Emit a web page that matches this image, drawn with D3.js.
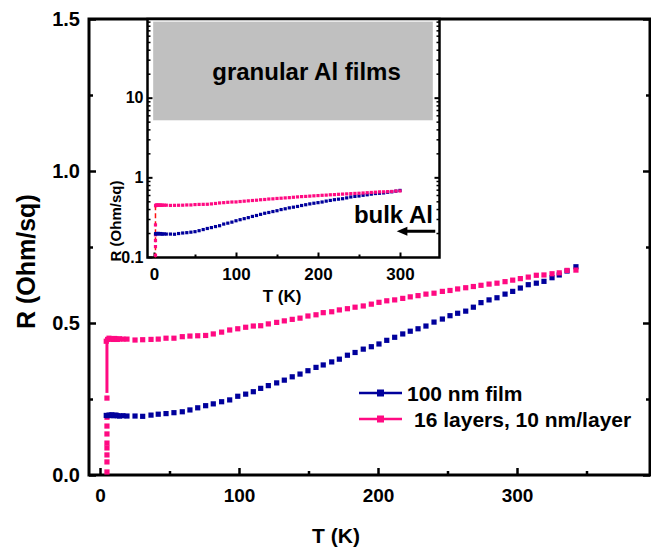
<!DOCTYPE html>
<html>
<head>
<meta charset="utf-8">
<script src="https://cdn.jsdelivr.net/npm/d3@7/dist/d3.min.js"></script>
<style>
  html, body { margin: 0; padding: 0; background: #fff; }
  svg { display: block; font-family: "Liberation Sans", Arial, Helvetica, sans-serif; font-weight: bold; }
</style>
</head>
<body>
<svg id="chart" width="651" height="556"></svg>
<script>
// Temperature of each measurement, as placed on the main panel's T axis (K)
const tMain = [4.5, 5.5, 6.5, 7.5, 8.5, 9.5, 10.5, 11.5, 12.5, 14.0, 16.5,
  19.4, 25.2, 30.7, 36.7, 41.9, 47.5, 53.2, 59.2, 64.7, 70.3,
  76.0, 81.5, 87.5, 93.3, 99.1, 104.8, 110.3, 115.6, 121.1, 127.1,
  132.6, 138.3, 143.9, 149.6, 155.4, 160.6, 166.7, 172.2, 178.0, 183.5,
  189.4, 195.2, 200.7, 206.3, 212.0, 217.8, 223.2, 228.8, 234.5, 240.3,
  246.3, 251.8, 257.3, 263.1, 268.6, 274.1, 279.9, 285.6, 291.4, 296.9,
  302.4, 308.1, 313.9, 319.4, 325.2, 330.4, 336.0, 342.4];

// Same measurements on the inset's T axis (K)
const tInset = [1.9, 2.5, 3, 4, 5, 6, 7, 8, 9, 10.5, 12.5,
  15, 20, 25, 30, 35, 40, 45, 50, 55, 60,
  65, 70, 75, 80, 85, 90, 95, 100, 105, 110,
  115, 120, 125, 130, 135, 140, 145, 150, 155, 160,
  165, 170, 175, 180, 185, 190, 195, 200, 205, 210,
  215, 220, 225, 230, 235, 240, 245, 250, 255, 260,
  265, 270, 275, 280, 285, 290, 295, 300];

// Sheet resistance, 100 nm film (Ohm/sq)
const rFilm = [0.196, 0.195, 0.197, 0.196, 0.198, 0.195, 0.196, 0.197, 0.195, 0.194, 0.195,
  0.194, 0.194, 0.193, 0.197, 0.200, 0.202, 0.205, 0.208, 0.214, 0.221,
  0.228, 0.234, 0.241, 0.247, 0.259, 0.266, 0.274, 0.285, 0.294, 0.303,
  0.312, 0.323, 0.332, 0.343, 0.354, 0.362, 0.372, 0.381, 0.394, 0.403,
  0.414, 0.422, 0.431, 0.443, 0.453, 0.464, 0.473, 0.481, 0.490, 0.503,
  0.513, 0.524, 0.532, 0.539, 0.552, 0.567, 0.576, 0.583, 0.595, 0.604,
  0.615, 0.626, 0.631, 0.637, 0.649, 0.658, 0.671, 0.685];

// Sheet resistance, 16 layers of 10 nm (Ohm/sq)
const rLayers = [0.440, 0.446, 0.450, 0.447, 0.448, 0.446, 0.449, 0.447, 0.446, 0.448, 0.447,
  0.447, 0.444, 0.445, 0.446, 0.447, 0.450, 0.450, 0.455, 0.457, 0.458,
  0.459, 0.464, 0.470, 0.477, 0.481, 0.486, 0.490, 0.491, 0.497, 0.502,
  0.507, 0.512, 0.516, 0.523, 0.527, 0.534, 0.537, 0.543, 0.547, 0.552,
  0.556, 0.562, 0.568, 0.573, 0.576, 0.581, 0.586, 0.590, 0.595, 0.598,
  0.604, 0.607, 0.612, 0.616, 0.620, 0.624, 0.628, 0.631, 0.636, 0.641,
  0.646, 0.651, 0.657, 0.658, 0.662, 0.665, 0.673, 0.674];

// Superconducting drop of the multilayer
const tcMain = 5.0, tcInset = 1.8;
const rTransition = [0.445, 0.27, 0.253, 0.19, 0.161, 0.135, 0.105, 0.089, 0.066, 0.043, 0.01];

const legendLabels = ["100 nm film", "16 layers, 10 nm/layer"];
const blue = "#00009c", pink = "#ff0a82";

const svg = d3.select("#chart");

// ---------- main panel ----------
const x = d3.scaleLinear().domain([0, 300]).range([100, 517]);
const y = d3.scaleLinear().domain([0, 1.5]).range([475, 19]);
const frame = { left: 89, right: 650, top: 19, bottom: 475 };

const main = svg.append("g");

function styleAxis(g, w) {
  g.select(".domain").remove();
  g.selectAll(".tick line").attr("stroke", "#000").attr("stroke-width", w);
}

// ticks
main.append("g").attr("transform", `translate(0,${frame.bottom})`)
  .call(d3.axisBottom(x).tickValues([0, 100, 200, 300]).tickSize(-7).tickPadding(14))
  .call(g => styleAxis(g, 2.5))
  .call(g => g.selectAll("text").attr("font-size", 19).attr("fill", "#000"));
main.append("g").attr("transform", `translate(0,${frame.bottom})`)
  .call(d3.axisBottom(x).tickValues([50, 150, 250, 350]).tickSize(-4).tickFormat(""))
  .call(g => styleAxis(g, 2.5));
main.append("g").attr("transform", `translate(${frame.left},0)`)
  .call(d3.axisLeft(y).tickValues([0, 0.5, 1.0, 1.5]).tickSize(-7).tickPadding(9).tickFormat(d3.format(".1f")))
  .call(g => styleAxis(g, 2.5))
  .call(g => g.selectAll("text").attr("font-size", 20).attr("fill", "#000"));
main.append("g").attr("transform", `translate(${frame.left},0)`)
  .call(d3.axisLeft(y).tickValues([0.25, 0.75, 1.25]).tickSize(-4).tickFormat(""))
  .call(g => styleAxis(g, 2.5));
main.append("g").attr("transform", `translate(${frame.right},0)`)
  .call(d3.axisRight(y).tickValues([0, 0.5, 1.0, 1.5]).tickSize(-7).tickFormat(""))
  .call(g => styleAxis(g, 2.5));
main.append("g").attr("transform", `translate(${frame.right},0)`)
  .call(d3.axisRight(y).tickValues([0.25, 0.75, 1.25]).tickSize(-4).tickFormat(""))
  .call(g => styleAxis(g, 2.5));

// frame
main.append("rect")
  .attr("x", frame.left).attr("y", frame.top)
  .attr("width", frame.right - frame.left).attr("height", frame.bottom - frame.top)
  .attr("fill", "none").attr("stroke", "#000").attr("stroke-width", 3);

// axis titles
main.append("text").attr("x", 336).attr("y", 543).attr("text-anchor", "middle")
  .attr("font-size", 21).text("T (K)");
main.append("text").attr("transform", "translate(35,329) rotate(-90)")
  .attr("text-anchor", "start").attr("font-size", 25).text("R (Ohm/sq)");

// transition of the multilayer: solid step then the scattered low points
const sq = 5.2;
main.append("path")
  .attr("d", d3.line().x(() => x(tcMain)).y(d => y(d))(rTransition.slice(0, 2)))
  .attr("stroke", pink).attr("stroke-width", 3).attr("fill", "none");
main.append("g").selectAll("rect").data(rTransition.slice(2)).join("rect")
  .attr("x", x(tcMain) - sq / 2).attr("y", d => y(d) - sq / 2)
  .attr("width", sq).attr("height", sq).attr("fill", pink);

// data markers
main.append("g").selectAll("rect").data(d3.zip(tMain, rFilm)).join("rect")
  .attr("x", d => x(d[0]) - sq / 2).attr("y", d => y(d[1]) - sq / 2)
  .attr("width", sq).attr("height", sq).attr("fill", blue);
main.append("g").selectAll("rect").data(d3.zip(tMain, rLayers)).join("rect")
  .attr("x", d => x(d[0]) - sq / 2).attr("y", d => y(d[1]) - sq / 2)
  .attr("width", sq).attr("height", sq).attr("fill", pink);

// legend
const legend = main.append("g");
[blue, pink].forEach((c, i) => {
  const ly = 393 + i * 26;
  legend.append("line").attr("x1", 359).attr("x2", 402).attr("y1", ly).attr("y2", ly)
    .attr("stroke", c).attr("stroke-width", 2.5);
  legend.append("rect").attr("x", 377).attr("y", ly - 3.5).attr("width", 7).attr("height", 7).attr("fill", c);
  legend.append("text").attr("x", i === 0 ? 407 : 414).attr("y", ly + 7.5)
    .attr("font-size", 21).text(legendLabels[i]);
});

// ---------- inset ----------
const xi = d3.scaleLinear().domain([0, 300]).range([154, 400]);
const yi = d3.scaleLog().domain([0.1, 100]).range([257, 18]);
const inFrame = { left: 147.5, right: 439.5, top: 19, bottom: 257.5 };
const inset = svg.append("g");

inset.append("rect")
  .attr("x", inFrame.left).attr("y", inFrame.top)
  .attr("width", inFrame.right - inFrame.left).attr("height", inFrame.bottom - inFrame.top)
  .attr("fill", "#fff");

svg.append("clipPath").attr("id", "insetClip").append("rect")
  .attr("x", inFrame.left).attr("y", inFrame.top)
  .attr("width", inFrame.right - inFrame.left).attr("height", inFrame.bottom - inFrame.top);

// shaded band for granular films
inset.append("rect")
  .attr("x", xi(-1)).attr("y", yi(90))
  .attr("width", xi(340) - xi(-1)).attr("height", yi(5.2) - yi(90))
  .attr("fill", "#c0c0c0");
inset.append("text").attr("x", xi(186)).attr("y", 80).attr("text-anchor", "middle")
  .attr("font-size", 24).text("granular Al films");

const minorLog = [];
[0.1, 1, 10].forEach(b => { for (let k = 2; k <= 9; k++) minorLog.push(b * k); });

inset.append("g").attr("transform", `translate(0,${inFrame.bottom})`)
  .call(d3.axisBottom(xi).tickValues([0, 100, 200, 300]).tickSize(-5).tickPadding(10))
  .call(g => styleAxis(g, 2))
  .call(g => g.selectAll("text").attr("font-size", 17).attr("fill", "#000"));
inset.append("g").attr("transform", `translate(0,${inFrame.bottom})`)
  .call(d3.axisBottom(xi).tickValues([50, 150, 250]).tickSize(-3).tickFormat(""))
  .call(g => styleAxis(g, 2));
inset.append("g").attr("transform", `translate(${inFrame.left},0)`)
  .call(d3.axisLeft(yi).tickValues([0.1, 1, 10]).tickSize(-5).tickPadding(4).tickFormat(d3.format("")))
  .call(g => styleAxis(g, 2))
  .call(g => g.selectAll("text").attr("font-size", 16).attr("fill", "#000"));
inset.append("g").attr("transform", `translate(${inFrame.left},0)`)
  .call(d3.axisLeft(yi).tickValues(minorLog).tickSize(-3).tickFormat(""))
  .call(g => styleAxis(g, 1.5));
inset.append("g").attr("transform", `translate(${inFrame.right},0)`)
  .call(d3.axisRight(yi).tickValues([1, 10]).tickSize(-5).tickFormat(""))
  .call(g => styleAxis(g, 2));
inset.append("g").attr("transform", `translate(${inFrame.right},0)`)
  .call(d3.axisRight(yi).tickValues(minorLog).tickSize(-3).tickFormat(""))
  .call(g => styleAxis(g, 1.5));

inset.append("rect")
  .attr("x", inFrame.left).attr("y", inFrame.top)
  .attr("width", inFrame.right - inFrame.left).attr("height", inFrame.bottom - inFrame.top)
  .attr("fill", "none").attr("stroke", "#000").attr("stroke-width", 2.5);

inset.append("text").attr("x", 282).attr("y", 302).attr("text-anchor", "middle")
  .attr("font-size", 17).text("T (K)");
inset.append("text").attr("transform", "translate(121,221) rotate(-90)")
  .attr("text-anchor", "middle").attr("font-size", 15).text("R (Ohm/sq)");

const plotIn = inset.append("g").attr("clip-path", "url(#insetClip)");
const sqi = 3.2;
plotIn.append("path")
  .attr("d", d3.line().x(() => xi(tcInset)).y(d => yi(d))(rTransition))
  .attr("stroke", "#ff1010").attr("stroke-width", 1.5).attr("stroke-dasharray", "5,3").attr("fill", "none");
plotIn.append("g").selectAll("rect").data(rTransition.slice(2)).join("rect")
  .attr("x", xi(tcInset) - sqi / 2).attr("y", d => yi(d) - sqi / 2)
  .attr("width", sqi).attr("height", sqi).attr("fill", pink);
plotIn.append("g").selectAll("rect").data(d3.zip(tInset, rFilm)).join("rect")
  .attr("x", d => xi(d[0]) - sqi / 2).attr("y", d => yi(d[1]) - sqi / 2)
  .attr("width", sqi).attr("height", sqi).attr("fill", blue);
plotIn.append("g").selectAll("rect").data(d3.zip(tInset, rLayers)).join("rect")
  .attr("x", d => xi(d[0]) - sqi / 2).attr("y", d => yi(d[1]) - sqi / 2)
  .attr("width", sqi).attr("height", sqi).attr("fill", pink);

// bulk Al marker
inset.append("text").attr("x", 433).attr("y", 223).attr("text-anchor", "end")
  .attr("font-size", 24).text("bulk Al");
const ay = yi(0.21);
inset.append("line").attr("x1", xi(343)).attr("x2", xi(302)).attr("y1", ay).attr("y2", ay)
  .attr("stroke", "#000").attr("stroke-width", 3);
inset.append("path")
  .attr("d", `M${xi(296)},${ay} L${xi(309)},${ay - 4.5} L${xi(309)},${ay + 4.5} Z`)
  .attr("fill", "#000");
</script>
</body>
</html>
